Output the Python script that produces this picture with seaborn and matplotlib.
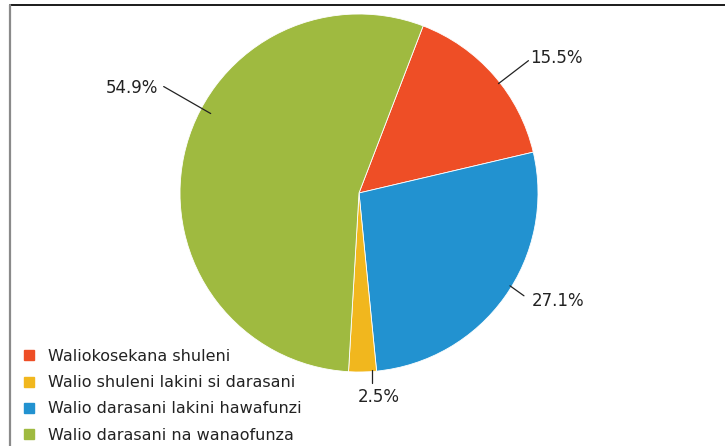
import numpy as np
import matplotlib
matplotlib.use("Agg")
import matplotlib.pyplot as plt
from matplotlib.lines import Line2D
import seaborn as sns

# Data (legend order)
categories = [
    "Waliokosekana shuleni",
    "Walio shuleni lakini si darasani",
    "Walio darasani lakini hawafunzi",
    "Walio darasani na wanaofunza",
]
shares = [15.5, 2.5, 27.1, 54.9]
colors = ["#EE4E26", "#F1B71E", "#2292D0", "#9FBA40"]

# order of slices going clockwise in the pie
pie_order = [0, 2, 1, 3]

sns.set_theme(style="white")
plt.rcParams["font.family"] = ["DejaVu Sans"]
plt.rcParams["text.color"] = "#222222"

W, H = 725, 446
fig = plt.figure(figsize=(W / 100, H / 100), dpi=100)
fig.patch.set_facecolor("white")

# pie axes: centre (359,193) px from top-left, radius 179 px
cx, cy, R = 359, 193, 179
ax = fig.add_axes([(cx - R) / W, (H - cy - R) / H, 2 * R / W, 2 * R / H])
ax.set_aspect("equal")
ax.axis("off")

vals = [shares[i] for i in pie_order]
cols = [colors[i] for i in pie_order]
wedges, _ = ax.pie(vals, colors=cols, startangle=69, counterclock=False,
                   radius=1, wedgeprops=dict(edgecolor="white", linewidth=0.6))
ax.set_xlim(-1, 1)
ax.set_ylim(-1, 1)

# label layout (pixels): angle tweak, leader vector, text offset, alignment
layout = {
    0: dict(dang=-3, lead=(30, 23), toff=(2, 3), ha="left", va="center"),
    2: dict(dang=4, lead=(14, -10), toff=(8, -5), ha="left", va="center"),
    1: dict(dang=3, lead=(0, -13), toff=(7, -5), ha="center", va="top"),
    3: dict(dang=-16, lead=(-47, 27), toff=(-6, -1), ha="right", va="center"),
}
for w, idx in zip(wedges, pie_order):
    lay = layout[idx]
    ang = np.deg2rad((w.theta1 + w.theta2) / 2 + lay["dang"])
    r0 = 0.99 if idx != 3 else 0.94
    x0, y0 = r0 * np.cos(ang), r0 * np.sin(ang)
    x1, y1 = x0 + lay["lead"][0] / R, y0 + lay["lead"][1] / R
    ax.plot([x0, x1], [y0, y1], color="#222222", lw=0.9, clip_on=False)
    ax.text(x1 + lay["toff"][0] / R, y1 + lay["toff"][1] / R,
            f"{shares[idx]}%", ha=lay["ha"], va=lay["va"], fontsize=12,
            color="#222222", clip_on=False)

# legend
handles = [Line2D([0], [0], marker="s", linestyle="none", markersize=7.5,
                  markerfacecolor=c, markeredgecolor=c) for c in colors]
fig.legend(handles, categories, loc="upper left",
           bbox_to_anchor=(22 / W, 1 - 349 / H), frameon=False,
           fontsize=11.5, handlelength=0.9, handletextpad=0.7,
           labelspacing=0.7, borderpad=0, borderaxespad=0)

# frame lines
fig.add_artist(Line2D([10 / W, 1], [1 - 5 / H, 1 - 5 / H],
                      transform=fig.transFigure, color="#1a1a1a", lw=1.4))
fig.add_artist(Line2D([10 / W, 10 / W], [0, 1 - 5 / H],
                      transform=fig.transFigure, color="#8a8a8a", lw=1.6))

fig.savefig("out.png", dpi=100, facecolor="white")
